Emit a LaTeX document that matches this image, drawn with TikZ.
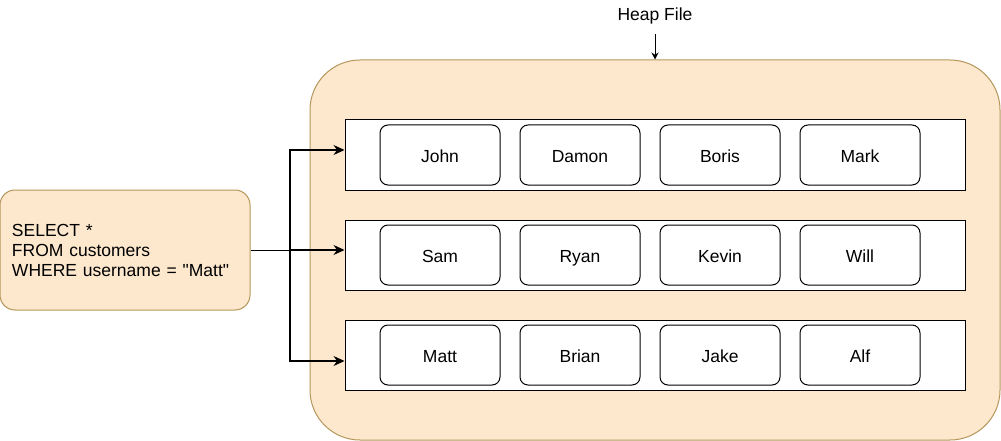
\documentclass[tikz,border=0pt]{standalone}
\usepackage{fontspec}
\setmainfont{Liberation Sans}
\usetikzlibrary{arrows.meta, positioning, calc}
\definecolor{heapfill}{RGB}{253,232,206}
\definecolor{heapline}{RGB}{180,150,90}
\tikzset{
  heap/.style   = {rectangle, rounded corners=50pt, draw=heapline, fill=heapfill,
                   minimum width=690pt, minimum height=380pt, inner sep=0pt},
  page/.style   = {rectangle, draw=black, fill=white, minimum width=620pt,
                   minimum height=70pt, inner sep=0pt},
  rec/.style    = {rectangle, rounded corners=8pt, draw=black, fill=white,
                   minimum width=120pt, minimum height=60pt, inner sep=0pt,
                   text height=18pt, text depth=4pt,
                   font=\fontsize{17.5}{20}\selectfont},
  query/.style  = {rectangle, rounded corners=15pt, draw=heapline, fill=heapfill,
                   minimum height=120pt, text width=226pt, inner xsep=12pt,
                   align=left, font=\fontsize{17.5}{20}\selectfont},
  fl/.style     = {-{Stealth[length=11pt, width=10pt]}, draw=black, line width=1.1pt},
  lbl/.style    = {font=\fontsize{17.5}{20}\selectfont, inner sep=3pt},
}

\begin{document}
\begin{tikzpicture}[x=1pt, y=-1pt, line width=1pt]
  \useasboundingbox (0,0) rectangle (1001,441);

  \node[heap] (heap) at (655,250) {};
  \node[lbl] (title) at (655,16) {Heap File};
  \draw[-{Stealth[length=7pt, width=7pt]}] (title.south) ++(0,6) -- (heap.north);

  % pages of the heap file
  \node[page] (row1) at (655,155) {};
  \node[page] (row2) at (655,255) {};
  \node[page] (row3) at (655,355) {};

  \node[rec, right=35pt of row1.west] (john)  {John};
  \node[rec, right=19pt of john]      (damon) {Damon};
  \node[rec, right=19pt of damon]     (boris) {Boris};
  \node[rec, right=19pt of boris]     (mark)  {Mark};

  \node[rec, right=35pt of row2.west] (sam)   {Sam};
  \node[rec, right=19pt of sam]       (ryan)  {Ryan};
  \node[rec, right=19pt of ryan]      (kevin) {Kevin};
  \node[rec, right=19pt of kevin]     (will)  {Will};

  \node[rec, right=35pt of row3.west] (matt)  {Matt};
  \node[rec, right=19pt of matt]      (brian) {Brian};
  \node[rec, right=19pt of brian]     (jake)  {Jake};
  \node[rec, right=19pt of jake]      (alf)   {Alf};

  % the query scans every page
  \node[query] (sql) at (125,250)
    {SELECT *\\FROM customers\\WHERE username = \textquotedbl Matt\textquotedbl};
  \coordinate (split) at (290,250);

  \draw (sql.east) -- (split);
  \draw[fl] (split) |- ($(row1.west)+(0,-5)$);
  \draw[fl] (split) -- ($(row2.west)+(0,-5)$);
  \draw[fl] (split) |- ($(row3.west)+(0,6)$);
\end{tikzpicture}
\end{document}
